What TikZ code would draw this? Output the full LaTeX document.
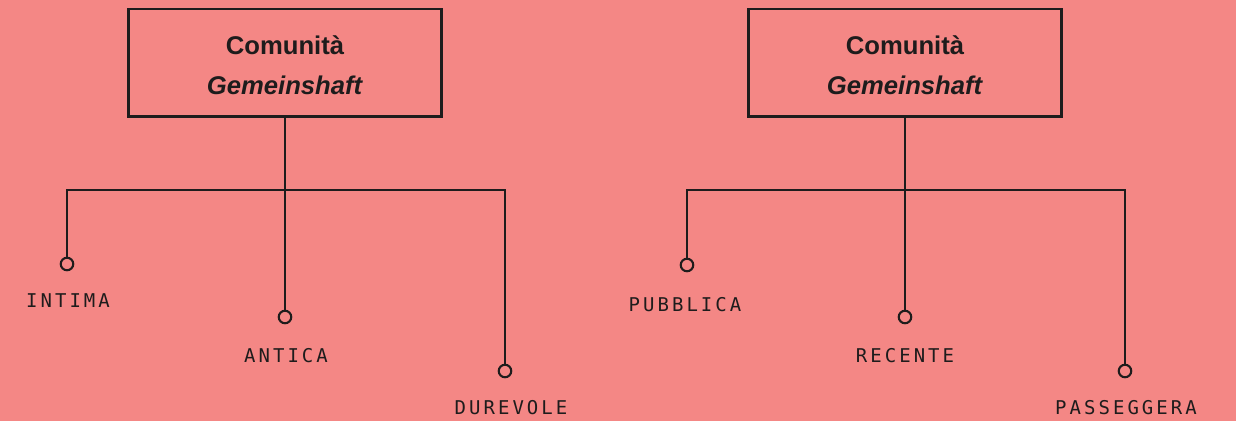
\documentclass[tikz,border=0pt]{standalone}
\usepackage{fontspec}
\setmainfont{Liberation Sans}
\newfontfamily\labelfont[LetterSpace=16]{DejaVu Sans Mono}
\definecolor{bg}{RGB}{244,135,133}
\definecolor{ink}{RGB}{30,28,28}
\begin{document}
\begin{tikzpicture}[x=0.02cm,y=-0.02cm,
  titlebox/.style={draw=ink,line width=1.7pt,minimum width=6.28cm,minimum height=2.16cm,inner sep=0pt},
  titletext/.style={align=center,text=ink,font=\fontsize{14.6}{23}\selectfont\bfseries,inner sep=0pt},
  tip/.style={circle,draw=ink,line width=1.2pt,minimum size=0.25cm,inner sep=0pt},
  tag/.style={text=ink,font=\labelfont\fontsize{10.8}{12}\selectfont,inner sep=0pt},
  link/.style={draw=ink,line width=1.2pt}]
\fill[bg] (0,0) rectangle (1236,421);
\useasboundingbox (0,0) rectangle (1236,421);

% left tree
\node[titlebox] (L) at (285,63) {};
\node[titletext] (Lt) at (285,65) {Comunità\\\textit{Gemeinshaft}};
\node[tip] (L1) at (67,264) {};
\node[tip] (L2) at (285,317) {};
\node[tip] (L3) at (505,371) {};
\coordinate (Lbar) at (285,190);
\draw[link] (L.south) -- (L2.north);
\draw[link] (L1.north) |- (Lbar) -| (L3.north);
\node[tag] (t1) at (68,301) {INTIMA};
\node[tag] (t2) at (286,356) {ANTICA};
\node[tag] (t3) at (511,408) {DUREVOLE};

% right tree
\node[titlebox] (R) at (905,63) {};
\node[titletext] (Rt) at (905,65) {Comunità\\\textit{Gemeinshaft}};
\node[tip] (R1) at (687,265) {};
\node[tip] (R2) at (905,317) {};
\node[tip] (R3) at (1125,371) {};
\coordinate (Rbar) at (905,190);
\draw[link] (R.south) -- (R2.north);
\draw[link] (R1.north) |- (Rbar) -| (R3.north);
\node[tag] (u1) at (685,305) {PUBBLICA};
\node[tag] (u2) at (905,356) {RECENTE};
\node[tag] (u3) at (1126,408) {PASSEGGERA};
\end{tikzpicture}
\end{document}
